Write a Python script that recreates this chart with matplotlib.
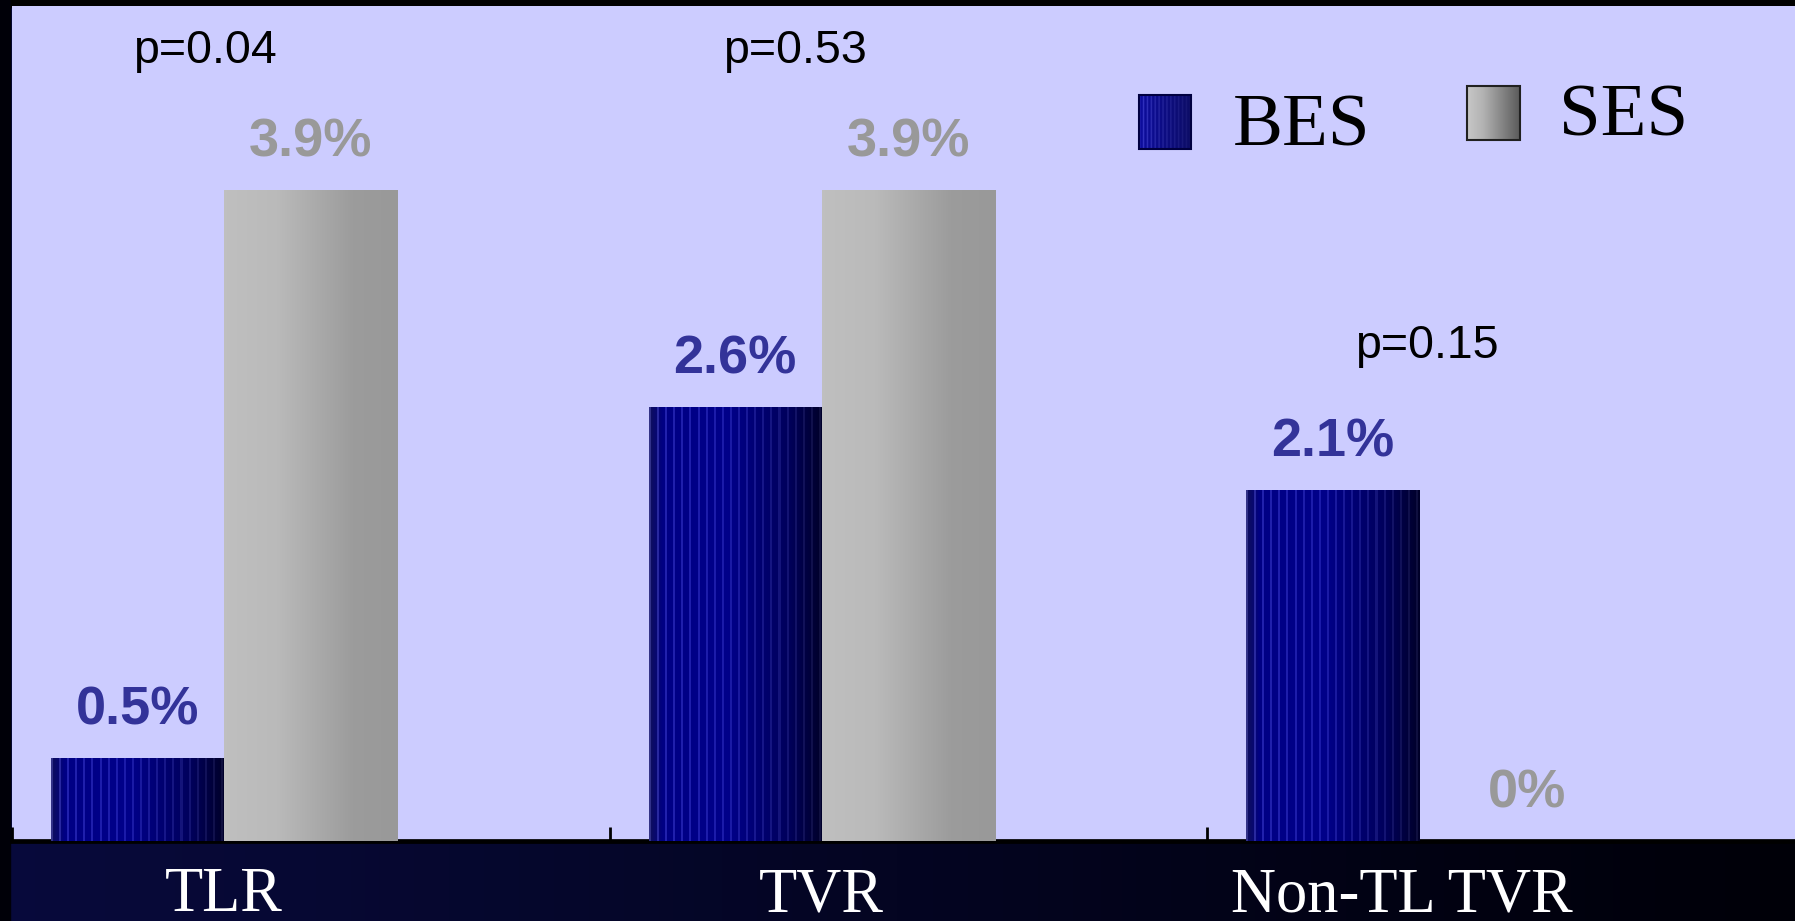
import numpy as np
import matplotlib
matplotlib.use("Agg")
import matplotlib.pyplot as plt
from matplotlib.patches import Rectangle
from matplotlib.colors import to_rgb

# ---- data ----
categories = ["TLR", "TVR", "Non-TL TVR"]
bes_values = [0.5, 2.6, 2.1]
ses_values = [3.9, 3.9, 0.0]
bes_labels = ["0.5%", "2.6%", "2.1%"]
ses_labels = ["3.9%", "3.9%", "0%"]
p_labels = ["p=0.04", "p=0.53", "p=0.15"]
series_names = ["BES", "SES"]

W, H = 1795, 921
fig = plt.figure(figsize=(W / 100, H / 100), dpi=100)
fig.patch.set_facecolor("#02021a")

# background gradient for the slide
bg = fig.add_axes([0, 0, 1, 1], zorder=-10)
bg.axis("off")
t = np.linspace(0, 1, 256)
c0 = np.array(to_rgb("#080a3c"))
c1 = np.array(to_rgb("#000008"))
grad = (c0[None, :] * (1 - t[:, None]) + c1[None, :] * t[:, None])[None, :, :]
bg.imshow(grad, aspect="auto", extent=[0, 1, 0, 1])
bg.add_patch(Rectangle((0, 1 - 7 / H), 1, 7 / H, color="black", zorder=2))
bg.add_patch(Rectangle((0, 0), 10 / W, 1, color="#000008", zorder=2))
bg.set_xlim(0, 1); bg.set_ylim(0, 1)

left = 12 / W
right_px = 1805
bottom = (H - 841) / H
top = 1 - 6 / H
ax = fig.add_axes([left, bottom, (right_px - 12) / W, top - bottom])
ax.set_facecolor("#ccccff")

x = np.arange(len(categories))
bw = 0.29
bes_bars = ax.bar(x - bw, bes_values, width=bw, align="center", color="#000080", zorder=2)
ses_bars = ax.bar(x, ses_values, width=bw, align="center", color="#b0b0b0", zorder=2)

# textures
N = 172
u = np.linspace(0, 1, N)
bes_b = np.interp(u, [0, 0.08, 0.45, 0.8, 1.0], [0.36, 0.52, 0.54, 0.36, 0.16])
bes_rg = np.interp(u, [0, 0.08, 1.0], [0.06, 0.0, 0.0])
stripe = ((np.arange(N) % 8) < 2).astype(float) * np.interp(u, [0, 1], [0.14, 0.06])
bes_img = np.stack([bes_rg + stripe, bes_rg + stripe, np.clip(bes_b + stripe * 1.2, 0, 1)], axis=-1)[None, :, :]
ses_v = np.interp(u, [0, 0.3, 0.75, 1.0], [0.75, 0.73, 0.61, 0.60])
ses_img = np.stack([ses_v, ses_v, ses_v], axis=-1)[None, :, :]

for bars, img in ((bes_bars, bes_img), (ses_bars, ses_img)):
    for b in bars:
        if b.get_height() <= 0:
            continue
        x0, y0 = b.get_x(), b.get_y()
        im = ax.imshow(img, aspect="auto", extent=[x0, x0 + b.get_width(), y0, y0 + b.get_height()],
                       zorder=3, interpolation="nearest")
        im.set_clip_path(b)

ax.set_xlim(-0.5, 2.5)
ax.set_ylim(0, 5)

# value labels
off = 0.2
for b, lab in zip(bes_bars, bes_labels):
    ax.text(b.get_x() + b.get_width() / 2, b.get_height() + off, lab, ha="center", va="baseline",
            fontsize=39, fontweight="bold", color="#333399", family="Liberation Sans", zorder=5)
for b, lab in zip(ses_bars, ses_labels):
    ax.text(b.get_x() + b.get_width() / 2 + (0.035 if b.get_height() == 0 else 0), b.get_height() + off,
            lab, ha="center", va="baseline",
            fontsize=39, fontweight="bold", color="#999999", family="Liberation Sans", zorder=5)

# p-values
p_dx = [-0.178, -0.19, -0.132]
p_y = [4.66, 4.66, 2.89]
for i, lab in enumerate(p_labels):
    ax.text(x[i] + p_dx[i], p_y[i], lab, ha="center", va="baseline", fontsize=33.5,
            color="black", family="Liberation Sans", zorder=5)

# category labels
for i, lab in enumerate(categories):
    ax.text(x[i] - 0.145 - (0.03 if i == 2 else 0), -0.42, lab, ha="center", va="baseline",
            fontsize=45, color="white", family="Liberation Serif", clip_on=False)

# axes styling
for s in ("left", "top", "right"):
    ax.spines[s].set_visible(False)
ax.spines["bottom"].set_linewidth(3.4)
ax.spines["bottom"].set_color("black")
ax.set_yticks([])
ax.set_xticks([-0.5, 0.5, 1.5])
ax.set_xticklabels([])
ax.tick_params(axis="x", direction="in", length=10, width=2.0, color="black")

# legend (manual, axes-fraction positions converted from pixels)
def fx(px):
    return (px - 12) / (right_px - 12)

def fy(py):
    return (841 - py) / (841 - 6)

lu = np.linspace(0, 1, 40)
leg_bes_b = np.interp(lu, [0, 1], [0.62, 0.40])
dots = ((np.arange(40) % 3) == 0).astype(float) * np.interp(lu, [0, 1], [0.15, 0.03])
leg_bes = np.stack([0.05 + dots, 0.05 + dots, leg_bes_b + dots], axis=-1)[None, :, :]
leg_ses_v = np.interp(lu, [0, 0.3, 1], [0.78, 0.70, 0.36])
leg_ses = np.stack([leg_ses_v, leg_ses_v, leg_ses_v], axis=-1)[None, :, :]
legend_boxes_px = [(1139, 1191, 95, 149), (1467, 1520, 86, 140)]
legend_text_px = [(1233, 145), (1559, 135)]
for (px0, px1, py0, py1), img, name, (tx, ty), ec in zip(legend_boxes_px, (leg_bes, leg_ses), series_names,
                                                       legend_text_px, ("#000040", "#202020")):
    bx, by = fx(px0), fy(py1)
    bwid, bht = fx(px1) - bx, fy(py0) - by
    ax.imshow(img, aspect="auto", extent=[bx, bx + bwid, by, by + bht], transform=ax.transAxes,
              zorder=6, interpolation="bilinear")
    ax.add_patch(Rectangle((bx, by), bwid, bht, transform=ax.transAxes, fill=False, ec=ec, lw=1.5, zorder=7))
    ax.text(fx(tx), fy(ty), name, transform=ax.transAxes, ha="left", va="baseline", fontsize=54,
            family="Liberation Serif", color="black", zorder=7)

ax.set_xlim(-0.5, 2.5)
ax.set_ylim(0, 5)

fig.savefig("out.png", dpi=100, facecolor=fig.get_facecolor())
